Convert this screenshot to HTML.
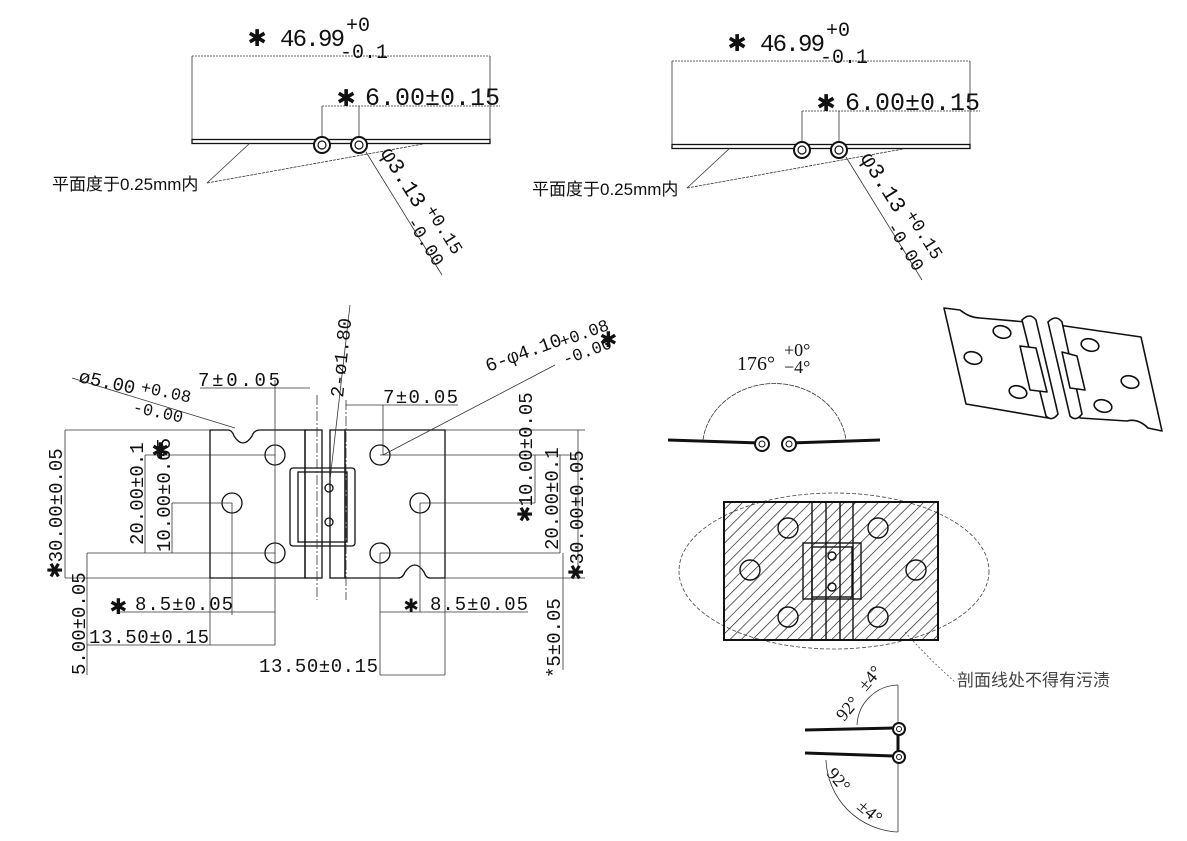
<!DOCTYPE html>
<html><head><meta charset="utf-8"><style>
html,body{margin:0;padding:0;background:#fff}
svg{display:block}
text{font-family:"Liberation Mono","Noto Sans CJK SC",monospace;fill:#111}
.cn{font-family:"Liberation Sans","Noto Sans CJK SC",sans-serif}
.sf{font-family:"Liberation Serif",serif}
</style></head><body>
<svg width="1187" height="841" viewBox="0 0 1187 841" xmlns="http://www.w3.org/2000/svg">
<defs>
<pattern id="hatch" width="8" height="8" patternUnits="userSpaceOnUse" patternTransform="rotate(45)">
<line x1="0" y1="0" x2="0" y2="8" stroke="#111" stroke-width="1.3"/>
</pattern>
<g id="topview">
<line x1="192" y1="56" x2="490" y2="56" stroke="#333" stroke-width="0.8" stroke-dasharray="2 1"/>
<line x1="192" y1="56" x2="192" y2="141" stroke="#333" stroke-width="0.8"/>
<line x1="490" y1="56" x2="490" y2="141" stroke="#333" stroke-width="0.8"/>
<line x1="322" y1="106" x2="500" y2="106" stroke="#333" stroke-width="0.8" stroke-dasharray="2 1"/>
<line x1="322" y1="106" x2="322" y2="138" stroke="#333" stroke-width="0.8"/>
<line x1="359" y1="106" x2="359" y2="138" stroke="#333" stroke-width="0.8"/>
<rect x="192" y="139.5" width="298" height="4" fill="none" stroke="#111" stroke-width="1.3"/>
<circle cx="322" cy="145" r="8" fill="#fff" stroke="#111" stroke-width="2"/>
<circle cx="322" cy="145" r="4" fill="none" stroke="#111" stroke-width="1.2"/>
<circle cx="359" cy="145" r="8" fill="#fff" stroke="#111" stroke-width="2"/>
<circle cx="359" cy="145" r="4" fill="none" stroke="#111" stroke-width="1.2"/>
<line x1="207" y1="183" x2="250" y2="143" stroke="#333" stroke-width="0.8"/>
<line x1="207" y1="183" x2="423" y2="144" stroke="#333" stroke-width="0.8" stroke-dasharray="3 1"/>
<line x1="366" y1="152" x2="442" y2="275" stroke="#333" stroke-width="0.8"/>
<text x="248" y="46" font-size="30">✱</text>
<text x="280" y="46" font-size="24" textLength="65">46.99</text>
<text x="346" y="31" font-size="20">+0</text>
<text x="340" y="58" font-size="20">-0.1</text>
<text x="337" y="106" font-size="30">✱</text>
<text x="365" y="105" font-size="25" textLength="135">6.00±0.15</text>
<text x="52" y="190" font-size="17" class="cn">平面度于0.25mm内</text>
<g transform="translate(380,153) rotate(58)">
<text x="0" y="0" font-size="22">φ3.13</text>
<text x="72" y="-8" font-size="18">+0.15</text>
<text x="72" y="14" font-size="18">-0.00</text>
</g>
</g>
</defs>
<use href="#topview"/>
<use href="#topview" transform="translate(480,5)"/>

<!-- front view -->
<g fill="none" stroke="#111" stroke-width="1.3">
<path d="M210,430 H228 Q232,430 234,436 Q243,450 252,436 Q254,430 260,430 H305 V578 H210 Z"/>
<path d="M345,430 H445 V578 H430 Q426,578 424,572 Q415,558 405,572 Q403,578 398,578 H345 Z"/>
<rect x="305" y="430" width="17" height="148"/>
<rect x="330" y="430" width="15" height="148"/>
<rect x="290" y="468" width="65" height="78" rx="3"/>
<rect x="298" y="472" width="49" height="70"/>
<circle cx="275" cy="455" r="10"/><circle cx="232" cy="503" r="10"/><circle cx="275" cy="553" r="10"/>
<circle cx="380" cy="455" r="10"/><circle cx="420" cy="503" r="10"/><circle cx="380" cy="553" r="10"/>
<circle cx="329" cy="488" r="4"/><circle cx="329" cy="522" r="4"/>
</g>
<g stroke="#333" stroke-width="0.8" fill="none">
<line x1="317" y1="395" x2="317" y2="600" stroke-dasharray="10 2 2 2"/>
<line x1="346" y1="400" x2="346" y2="600" stroke-dasharray="10 2 2 2"/>
<line x1="65" y1="430" x2="210" y2="430"/><line x1="65" y1="578" x2="210" y2="578"/>
<line x1="65" y1="430" x2="65" y2="578"/>
<line x1="145" y1="455" x2="275" y2="455"/><line x1="145" y1="455" x2="145" y2="553"/>
<line x1="172" y1="503" x2="232" y2="503"/><line x1="172" y1="503" x2="172" y2="553"/>
<line x1="87" y1="553" x2="275" y2="553"/><line x1="87" y1="553" x2="87" y2="675"/>
<line x1="232" y1="503" x2="232" y2="615"/><line x1="275" y1="380" x2="275" y2="645"/>
<line x1="210" y1="578" x2="210" y2="645"/>
<line x1="120" y1="612" x2="275" y2="612"/><line x1="87" y1="645" x2="275" y2="645"/>
<line x1="200" y1="388" x2="310" y2="388"/>
<line x1="346" y1="405" x2="458" y2="405"/><line x1="383" y1="405" x2="383" y2="455"/>
<line x1="380" y1="455" x2="578" y2="455"/><line x1="420" y1="503" x2="535" y2="503"/>
<line x1="380" y1="553" x2="560" y2="553"/>
<line x1="445" y1="430" x2="585" y2="430"/><line x1="445" y1="578" x2="585" y2="578"/>
<line x1="578" y1="430" x2="578" y2="578"/><line x1="560" y1="455" x2="560" y2="553"/>
<line x1="535" y1="455" x2="535" y2="503"/>
<line x1="563" y1="553" x2="563" y2="670"/>
<line x1="420" y1="503" x2="420" y2="612"/>
<line x1="380" y1="553" x2="380" y2="675"/><line x1="445" y1="578" x2="445" y2="675"/>
<line x1="380" y1="612" x2="528" y2="612"/><line x1="380" y1="675" x2="445" y2="675"/>
<line x1="72" y1="378" x2="235" y2="428"/>
<line x1="383" y1="455" x2="555" y2="365"/>
<line x1="330" y1="480" x2="350" y2="305"/>
</g>
<g font-size="19">
<text x="198" y="386" textLength="82">7±0.05</text>
<text x="383" y="403" textLength="75">7±0.05</text>
<text x="78" y="382" transform="rotate(12 78 382)">ø5.00</text>
<text x="140" y="392" font-size="17" transform="rotate(12 140 392)">+0.08</text>
<text x="132" y="412" font-size="17" transform="rotate(12 132 412)">-0.00</text>
<text transform="translate(343,398) rotate(-84)">2-ø1.80</text>
<text transform="translate(488,372) rotate(-20)">6-φ4.10</text>
<text transform="translate(562,347) rotate(-20)" font-size="17">+0.08</text>
<text transform="translate(565,365) rotate(-20)" font-size="17">-0.00</text>
<text x="600" y="347" font-size="28">✱</text>
<text x="152" y="458" font-size="28">✱</text>
<text x="110" y="614" font-size="28">✱</text><text x="135" y="610" textLength="98">8.5±0.05</text>
<text x="404" y="612" font-size="24">✱</text><text x="430" y="610" textLength="98">8.5±0.05</text>
<text x="89" y="643" textLength="120">13.50±0.15</text>
<text x="259" y="672" textLength="119">13.50±0.15</text>
<text transform="translate(62,578) rotate(-90)"><tspan font-size="26">✱</tspan>30.00±0.05</text>
<text transform="translate(143,545) rotate(-90)">20.00±0.1</text>
<text transform="translate(170,552) rotate(-90)">10.00±0.05</text>
<text transform="translate(85,675) rotate(-90)">5.00±0.05</text>
<text transform="translate(532,522) rotate(-90)"><tspan font-size="26">✱</tspan>10.00±0.05</text>
<text transform="translate(558,550) rotate(-90)">20.00±0.1</text>
<text transform="translate(583,580) rotate(-90)"><tspan font-size="26">✱</tspan>30.00±0.05</text>
<text transform="translate(560,678) rotate(-90)">*5±0.05</text>
</g>

<!-- 176 view -->
<path d="M703,440 A72,64 0 0 1 846,440" fill="none" stroke="#333" stroke-width="0.8" stroke-dasharray="5 1"/>
<path d="M668,440 L760,443 M790,443 L880,440" stroke="#111" stroke-width="3" fill="none"/>
<circle cx="762" cy="444" r="7" fill="#fff" stroke="#111" stroke-width="2"/><circle cx="762" cy="444" r="3" fill="none" stroke="#111"/>
<circle cx="789" cy="444" r="7" fill="#fff" stroke="#111" stroke-width="2"/><circle cx="789" cy="444" r="3" fill="none" stroke="#111"/>
<text x="737" y="370" font-size="20" class="sf">176°</text>
<text x="784" y="356" font-size="18" class="sf">+0°</text>
<text x="784" y="373" font-size="18" class="sf">−4°</text>

<!-- iso hinge -->
<g fill="none" stroke="#111" stroke-width="1.6" stroke-linejoin="round">
<path d="M944,308 L960,310 Q970,318 980,318 L1026,322 L1048,418 L966,404 Z"/>
<path d="M1058,325 L1141,337 L1162,431 L1148,428 Q1138,418 1127,421 L1080,418 Z"/>
<path d="M1022,320 Q1030,312 1036,320 L1058,414 Q1052,422 1046,416 Z" fill="#fff"/>
<path d="M1048,322 Q1056,314 1062,322 L1082,414 Q1076,422 1070,416 Z" fill="#fff"/>
<path d="M1020,346 L1036,348 L1047,392 L1030,390 Z" fill="#fff"/>
<path d="M1062,352 L1077,356 L1085,390 L1070,388 Z" fill="#fff"/>
<ellipse cx="1002" cy="332" rx="9" ry="6" transform="rotate(15 1002 332)"/><ellipse cx="973" cy="358" rx="9" ry="6" transform="rotate(15 973 358)"/><ellipse cx="1018" cy="392" rx="9" ry="6" transform="rotate(15 1018 392)"/>
<ellipse cx="1090" cy="345" rx="9" ry="6" transform="rotate(15 1090 345)"/><ellipse cx="1130" cy="382" rx="9" ry="6" transform="rotate(15 1130 382)"/><ellipse cx="1103" cy="406" rx="9" ry="6" transform="rotate(15 1103 406)"/>
</g>

<!-- hatched section -->
<ellipse cx="834" cy="571" rx="155" ry="78" fill="none" stroke="#444" stroke-width="0.8" stroke-dasharray="4 2"/>
<rect x="724" y="502" width="214" height="138" fill="url(#hatch)" stroke="#111" stroke-width="2"/>
<g fill="none" stroke="#111" stroke-width="1.4">
<line x1="812" y1="502" x2="812" y2="640"/><line x1="826" y1="502" x2="826" y2="640"/>
<line x1="840" y1="502" x2="840" y2="640"/><line x1="853" y1="502" x2="853" y2="640"/>
<rect x="803" y="543" width="58" height="56"/>
<rect x="812" y="547" width="40" height="50"/>
<circle cx="832" cy="556" r="4"/><circle cx="832" cy="587" r="4"/>
<circle cx="788" cy="528" r="10"/><circle cx="750" cy="570" r="10"/><circle cx="788" cy="617" r="10"/>
<circle cx="878" cy="528" r="10"/><circle cx="916" cy="570" r="10"/><circle cx="878" cy="617" r="10"/>
</g>
<path d="M905,632 Q930,660 955,682" fill="none" stroke="#555" stroke-width="0.8" stroke-dasharray="2 2"/>
<text x="957" y="686" class="cn" font-size="17" style="fill:#444">剖面线处不得有污渍</text>

<!-- 92 view -->
<g stroke="#333" stroke-width="0.8" fill="none">
<line x1="898" y1="685" x2="898" y2="832"/>
<path d="M857,725 A42,42 0 0 1 898,685"/>
<path d="M826,760 A75,75 0 0 0 898,832"/>
</g>
<path d="M805,730 L893,728 M805,753 L893,756 M898,730 L898,755" stroke="#111" stroke-width="3" fill="none"/>
<circle cx="899" cy="729" r="6" fill="#fff" stroke="#111" stroke-width="2"/><circle cx="899" cy="729" r="2.5" fill="none" stroke="#111"/>
<circle cx="899" cy="757" r="6" fill="#fff" stroke="#111" stroke-width="2"/><circle cx="899" cy="757" r="2.5" fill="none" stroke="#111"/>
<text transform="translate(844,722) rotate(-50)" font-size="18" class="sf">92°</text>
<text transform="translate(866,692) rotate(-50)" font-size="18" class="sf">±4°</text>
<text transform="translate(826,774) rotate(50)" font-size="18" class="sf">92°</text>
<text transform="translate(856,808) rotate(40)" font-size="18" class="sf">±4°</text>
</svg>
</body></html>
